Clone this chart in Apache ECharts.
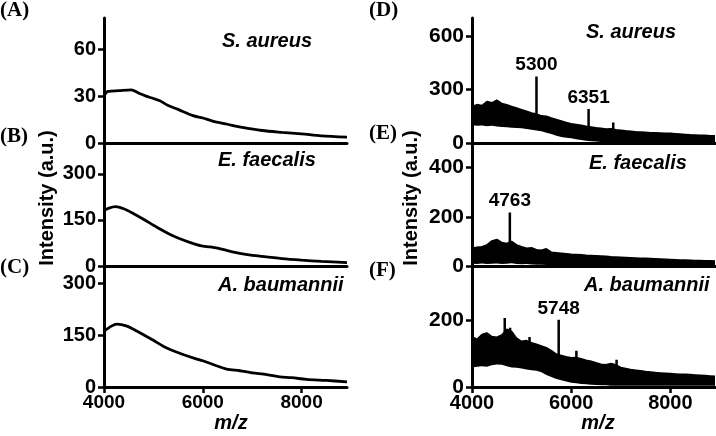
<!DOCTYPE html>
<html>
<head>
<meta charset="utf-8">
<script src="https://cdn.jsdelivr.net/npm/echarts@6/dist/echarts.min.js"></script>
<style>
html, body { margin: 0; background: #fff; }
#chart { width: 716px; height: 436px; }
</style>
</head>
<body>
<div id="chart"></div>
<script>
// ---- left column: smoothed spectra ----
var aX = [4000, 4080, 4300, 4550, 4700, 4850, 5000, 5130, 5300, 5500, 5800, 6000, 6200, 6500, 6800, 7200, 7600, 8000, 8400, 8920];
var aY = [30, 33, 33.5, 34, 32, 30, 28.5, 27, 24, 21.5, 17.5, 16, 14, 12, 10, 8, 6.8, 5.8, 4.6, 3.8];
var bX = [4000, 4100, 4230, 4400, 4600, 4800, 5070, 5300, 5500, 5750, 5950, 6150, 6300, 6600, 6900, 7200, 7600, 8000, 8400, 8920];
var bY = [180, 188, 193, 186, 170, 152, 126, 106, 91, 76, 66, 62, 58, 46, 37, 31, 24, 19, 15, 11];
var cX = [4000, 4150, 4260, 4450, 4650, 4800, 5000, 5200, 5400, 5600, 5850, 6000, 6250, 6480, 6750, 7000, 7300, 7560, 7800, 8100, 8500, 8920];
var cY = [161, 176, 182, 177, 163, 151, 135, 118, 105, 94, 82, 76, 63, 52, 47, 41, 36, 29, 27, 22, 19, 15];

// ---- right column: raw spectra as upper / lower envelopes ----
var rX = [4000, 4100, 4200, 4300, 4400, 4500, 4600, 4700, 4800, 4900,
          5000, 5100, 5200, 5300, 5400, 5500, 5600, 5700, 5800, 5900,
          6000, 6100, 6200, 6300, 6400, 6500, 6600, 6700, 6800, 6900,
          7000, 7100, 7200, 7300, 7400, 7500, 7600, 7700, 7800, 7900,
          8000, 8100, 8200, 8300, 8400, 8500, 8600, 8700, 8800, 8900];
var dUp = [205, 215, 210, 232, 225, 240, 222, 215, 205, 196,
           187, 178, 168, 162, 152, 150, 140, 132, 124, 115,
           108, 104, 100, 94, 90, 86, 83, 78, 80, 74,
           71, 68, 66, 63, 62, 60, 58, 57, 56, 55,
           54, 52, 50, 48, 46, 45, 44, 43, 41, 40];
var dLo = [100, 96, 98, 94, 96, 92, 90, 88, 86, 84,
           83, 78, 74, 70, 66, 58, 50, 40, 34, 30,
           26, 21, 17, 13, 10, 8, 6, 5, 4, 4,
           3, 3, 3, 3, 3, 3, 3, 3, 3, 3,
           3, 3, 3, 3, 3, 3, 3, 3, 3, 3];
var eUp = [72, 76, 78, 86, 102, 108, 96, 92, 100, 86,
           78, 72, 74, 66, 64, 70, 56, 54, 52, 50,
           48, 47, 46, 44, 43, 42, 41, 40, 38, 37,
           36, 35, 34, 33, 32, 31, 30, 29, 28, 27,
           26, 25, 24, 24, 23, 22, 22, 21, 21, 20];
var eLo = [9, 8, 10, 8, 9, 10, 8, 9, 11, 8,
           7, 8, 6, 5, 5, 4, 4, 3, 3, 3,
           3, 3, 3, 3, 3, 3, 3, 3, 3, 3,
           3, 3, 3, 3, 3, 3, 3, 3, 3, 3,
           3, 3, 3, 3, 3, 3, 3, 3, 3, 3];
var fUp = [150, 142, 156, 161, 150, 148, 155, 172, 165, 145,
           136, 138, 132, 127, 122, 117, 108, 98, 94, 90,
           87, 88, 84, 80, 77, 72, 68, 66, 70, 66,
           58, 55, 52, 50, 48, 46, 45, 43, 42, 41,
           40, 39, 38, 38, 37, 36, 35, 34, 33, 32];
var fLo = [58, 60, 62, 60, 65, 67, 66, 62, 58, 57,
           55, 52, 50, 48, 44, 36, 30, 24, 20, 16,
           13, 11, 9, 8, 7, 6, 5, 5, 4, 4,
           4, 4, 4, 4, 4, 4, 4, 4, 4, 4,
           4, 4, 4, 4, 4, 4, 4, 4, 4, 4];

// peaks standing out of the noise
var dPeakX = [5300, 6351, 6848];
var dPeakTop = [372, 190, 115];
var dPeakBase = [150, 88, 70];
var dPeakText = ['5300', '6351', ''];
var ePeakX = [4763];
var ePeakTop = [217];
var ePeakBase = [90];
var ePeakText = ['4763'];
var fPeakX = [4660, 4768, 5160, 5748, 6105, 6915];
var fPeakTop = [205, 176, 149, 200, 108, 81];
var fPeakBase = [150, 160, 130, 95, 85, 60];
var fPeakText = ['', '', '', '5748', '', ''];

// axes
var xMin = 4000, xMax = 8920;
var xTicks = [4000, 6000, 8000];
var yMaxes = [80, 400, 350, 700, 500, 360];
var yTicks = [[0, 30, 60], [0, 150, 300], [0, 150, 300], [0, 300, 600], [0, 200, 400], [0, 200]];

var species = ['S. aureus', 'E. faecalis', 'A. baumannii'];
var letters = ['(A)', '(B)', '(C)', '(D)', '(E)', '(F)'];

var SANS = '"Liberation Sans", Arial, sans-serif';
var SERIF = '"Liberation Serif", "Times New Roman", serif';

var chart = echarts.init(document.getElementById('chart'));

var rows = [{ top: 18, height: 125 }, { top: 143, height: 123 }, { top: 266, height: 121 }];
var cols = [{ left: 104, width: 243, ySize: 20, xSize: 19 }, { left: 472, width: 244, ySize: 21, xSize: 20 }];

var grids = [], xAxes = [], yAxes = [], series = [];
for (var c = 0; c < 2; c++) {
	for (var r = 0; r < 3; r++) {
		var i = c * 3 + r;
		var bottom = r === 2;
		grids.push({ left: cols[c].left, width: cols[c].width, top: rows[r].top, height: rows[r].height });
		xAxes.push({
			type: 'value', gridIndex: i, min: xMin, max: xMax, z: 10,
			splitLine: { show: false },
			axisLine: { show: true, lineStyle: { color: '#000', width: 3 } },
			axisTick: { show: bottom, customValues: xTicks, length: 6, lineStyle: { color: '#000', width: 2.5 } },
			axisLabel: {
				show: bottom, customValues: xTicks, margin: 6, color: '#000',
				fontFamily: SANS, fontWeight: 'bold', fontSize: cols[c].xSize,
				formatter: function (v) { return String(v); }
			}
		});
		yAxes.push({
			type: 'value', gridIndex: i, min: 0, max: yMaxes[i], z: 10,
			splitLine: { show: false },
			axisLine: { show: true, onZero: false, lineStyle: { color: '#000', width: 3 } },
			axisTick: { show: true, customValues: yTicks[i], length: 6, lineStyle: { color: '#000', width: 2.5 } },
			axisLabel: { customValues: yTicks[i], margin: 8, color: '#000', fontFamily: SANS, fontWeight: 'bold', fontSize: cols[c].ySize }
		});
	}
}

function zip(xs, ys) {
	return xs.map(function (x, k) { return [x, ys[k]]; });
}

// smoothed curves
[[aX, aY], [bX, bY], [cX, cY]].forEach(function (s, k) {
	series.push({
		type: 'line', xAxisIndex: k, yAxisIndex: k, data: zip(s[0], s[1]),
		symbol: 'none', smooth: 0.3, lineStyle: { color: '#000', width: 2.8 }
	});
});

// raw spectra: black area up to the upper envelope, white area below the lower one
[[dUp, dLo], [eUp, eLo], [fUp, fLo]].forEach(function (s, k) {
	var idx = k + 3;
	series.push({
		type: 'line', xAxisIndex: idx, yAxisIndex: idx, data: zip(rX, s[0]),
		symbol: 'none', z: 2, lineStyle: { color: '#000', width: 1.5 },
		areaStyle: { color: '#000', opacity: 1 }
	});
	series.push({
		type: 'line', xAxisIndex: idx, yAxisIndex: idx, data: zip(rX, s[1]),
		symbol: 'none', z: 3, lineStyle: { width: 0 },
		areaStyle: { color: '#fff', opacity: 1 }
	});
});

[[dPeakX, dPeakTop, dPeakBase, dPeakText], [ePeakX, ePeakTop, ePeakBase, ePeakText], [fPeakX, fPeakTop, fPeakBase, fPeakText]].forEach(function (p, k) {
	var idx = k + 3;
	var labelled = [];
	p[0].forEach(function (x, j) {
		series.push({
			type: 'line', xAxisIndex: idx, yAxisIndex: idx, z: 4,
			data: [[x, p[2][j]], [x, p[1][j]]],
			symbol: 'none', lineStyle: { color: '#000', width: 2.5 }
		});
		if (p[3][j]) labelled.push({ name: p[3][j], value: [x, p[1][j]] });
	});
	series.push({
		type: 'scatter', xAxisIndex: idx, yAxisIndex: idx, z: 5, symbolSize: 0,
		itemStyle: { color: '#000', opacity: 1 }, data: labelled, silent: true,
		label: {
			show: true, position: 'top', distance: 2, formatter: function (q) { return q.name; },
			color: '#000', opacity: 1, textBorderWidth: 0, fontFamily: SANS, fontWeight: 'bold', fontSize: 19
		}
	});
});

// text
var graphic = [];
var letterPos = [[0, 11], [0, 137], [0, 268], [369, 11], [369, 134], [369, 271]];
letters.forEach(function (t, k) {
	graphic.push({ type: 'text', x: letterPos[k][0], y: letterPos[k][1],
		style: { text: t, font: 'bold 21px ' + SERIF, fill: '#000', textVerticalAlign: 'middle' } });
});
var speciesPos = [[[222, 41], [218, 160], [218, 285]], [[586, 32], [589, 163], [584, 285]]];
for (var c2 = 0; c2 < 2; c2++) {
	species.forEach(function (t, k) {
		graphic.push({ type: 'text', x: speciesPos[c2][k][0], y: speciesPos[c2][k][1],
			style: { text: t, font: 'italic bold 20px ' + SANS, fill: '#000', textVerticalAlign: 'middle' } });
	});
}
[[47, 198], [411, 198]].forEach(function (p) {
	graphic.push({ type: 'text', x: p[0], y: p[1], rotation: Math.PI / 2,
		style: { text: 'Intensity (a.u.)', font: 'bold 20px ' + SANS, fill: '#000', textAlign: 'center', textVerticalAlign: 'middle' } });
});
[[231, 423], [598, 423]].forEach(function (p) {
	graphic.push({ type: 'text', x: p[0], y: p[1],
		style: { text: 'm/z', font: 'italic bold 20px ' + SANS, fill: '#000', textAlign: 'center', textVerticalAlign: 'middle' } });
});

chart.setOption({
	animation: false,
	backgroundColor: '#fff',
	grid: grids,
	xAxis: xAxes,
	yAxis: yAxes,
	series: series,
	graphic: graphic
});
</script>
</body>
</html>
